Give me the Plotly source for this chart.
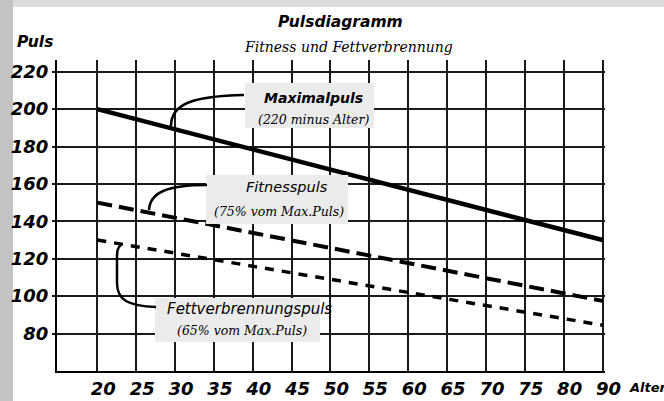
import plotly.graph_objects as go

# Age categories on the horizontal axis (evenly spaced, 90 follows 80)
ages = ["20", "25", "30", "35", "40", "45", "50", "55", "60", "65", "70", "75", "80", "90"]
y_ticks = [80, 100, 120, 140, 160, 180, 200, 220]

# Pulse lines, given at the first and last age
line_ages = ["20", "90"]
maximalpuls = [200, 130]
fitnesspuls = [150, 97.5]
fettverbrennungspuls = [130, 84.5]

W, H = 664, 401
L, R, T, B = 57, 605, 60, 371  # plot area in pixels


def px(x):
    return (x - L) / (R - L)


def py(y):
    return (B - y) / (B - T)


def path(cmds):
    out = []
    for c in cmds:
        if isinstance(c, str):
            out.append(c)
        else:
            out.append(f"{px(c[0]):.5f},{py(c[1]):.5f}")
    return " ".join(out)


SANS = "DejaVu Sans"
SERIF = "DejaVu Serif"

fig = go.Figure()
fig.add_trace(go.Scatter(x=line_ages, y=maximalpuls, mode="lines",
                         line=dict(color="black", width=4.5), showlegend=False))
fig.add_trace(go.Scatter(x=line_ages, y=fitnesspuls, mode="lines",
                         line=dict(color="black", width=4, dash="15px,7px"), showlegend=False))
fig.add_trace(go.Scatter(x=line_ages, y=fettverbrennungspuls, mode="lines",
                         line=dict(color="black", width=3.5, dash="9px,8px"), showlegend=False))

shapes = [
    # window frame strips
    dict(type="rect", xref="paper", yref="paper", x0=px(0), x1=px(13), y0=py(0), y1=py(H + 20),
         fillcolor="#c3c3c3", line=dict(width=0), layer="below"),
    dict(type="rect", xref="paper", yref="paper", x0=px(13), x1=px(W + 20), y0=py(0), y1=py(7),
         fillcolor="#dcdcdc", line=dict(width=0), layer="below"),
    # label boxes
    dict(type="rect", xref="paper", yref="paper", x0=px(245), x1=px(374), y0=py(83), y1=py(128),
         fillcolor="#ebebeb", line=dict(width=0), layer="above"),
    dict(type="rect", xref="paper", yref="paper", x0=px(206), x1=px(348), y0=py(175), y1=py(224),
         fillcolor="#ebebeb", line=dict(width=0), layer="above"),
    dict(type="rect", xref="paper", yref="paper", x0=px(155), x1=px(320), y0=py(298), y1=py(342),
         fillcolor="#ebebeb", line=dict(width=0), layer="above"),
    # connectors from boxes to lines
    dict(type="path", xref="paper", yref="paper",
         path=path(["M", (244, 95), "C", (195, 96), (171, 103), (171, 126)]),
         line=dict(color="black", width=2.5), layer="above"),
    dict(type="path", xref="paper", yref="paper",
         path=path(["M", (207, 185), "C", (168, 185), (150, 192), (149, 210)]),
         line=dict(color="black", width=2.5), layer="above"),
    dict(type="path", xref="paper", yref="paper",
         path=path(["M", (156, 307), "C", (128, 306), (117, 300), (117, 283),
                    "L", (117, 256), "C", (117, 250), (118, 247), (121, 245)]),
         line=dict(color="black", width=2.5), layer="above"),
]


def label(x, y, text, size, family=SANS, weight="normal", style="italic", anchor="center"):
    return dict(xref="paper", yref="paper", x=px(x), y=py(y), text=text, showarrow=False,
                xanchor=anchor, yanchor="middle",
                font=dict(family=family, size=size, color="black", weight=weight, style=style))


annotations = [
    label(340, 22, "Pulsdiagramm", 15.5, weight="bold"),
    label(348, 47, "Fitness und Fettverbrennung", 14, family=SERIF),
    label(15, 42, "Puls", 15.5, weight="bold", anchor="left"),
    label(627, 387, "Alter", 13, weight="bold", anchor="left"),
    label(313, 98, "Maximalpuls", 14, weight="bold"),
    label(313, 119, "(220 minus Alter)", 12.5, family=SERIF),
    label(287, 187, "Fitnesspuls", 14.5),
    label(279, 211, "(75% vom Max.Puls)", 12.5, family=SERIF),
    label(249, 309, "Fettverbrennungspuls", 15),
    label(242, 330, "(65% vom Max.Puls)", 12.5, family=SERIF),
]

tick_font = dict(family=SANS, size=18, color="black", weight="bold", style="italic")

fig.update_layout(
    width=W, height=H,
    margin=dict(l=L, r=W - R, t=T, b=H - B, pad=0, autoexpand=False),
    paper_bgcolor="white", plot_bgcolor="white",
    shapes=shapes, annotations=annotations, showlegend=False,
    xaxis=dict(type="category", categoryorder="array", categoryarray=ages,
               tickvals=ages, range=[-1.037, 13.064], automargin=False,
               showgrid=True, gridcolor="#1a1a1a", gridwidth=1.5,
               showline=True, linecolor="black", linewidth=2,
               ticks="", ticklabelshift=6, ticklabelstandoff=0,
               tickfont=tick_font, fixedrange=True),
    yaxis=dict(range=[60, 226.25], tickvals=y_ticks, automargin=False,
               showgrid=True, gridcolor="#1a1a1a", gridwidth=1.5,
               showline=True, linecolor="black", linewidth=2, zeroline=False,
               ticks="outside", ticklen=3, tickcolor="#1a1a1a", tickwidth=1.5,
               tickfont=tick_font, fixedrange=True),
)

fig.write_html("out.html")
